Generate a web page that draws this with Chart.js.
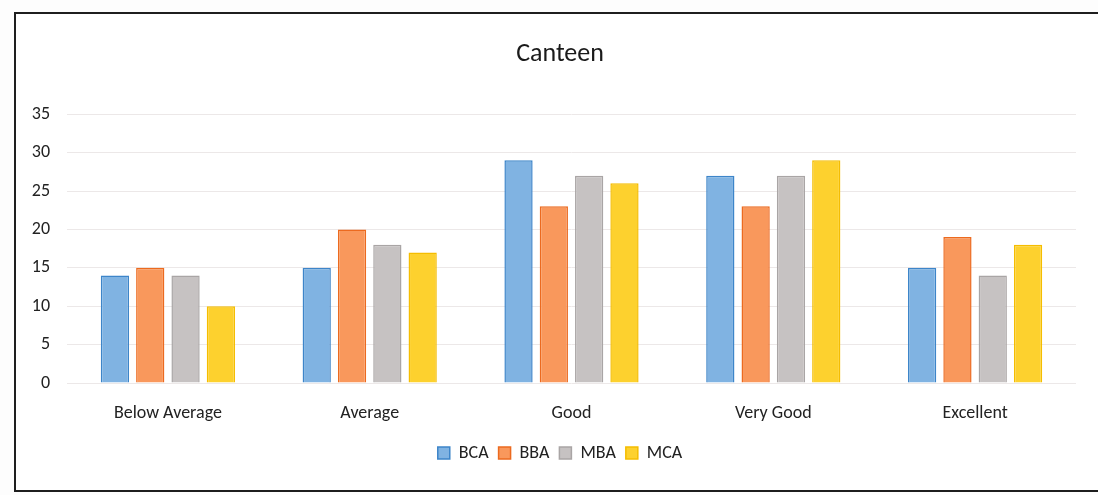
<!DOCTYPE html>
<html lang="en">
<head>
  <meta charset="UTF-8">
  <title>Canteen</title>
  <script src="https://cdn.jsdelivr.net/npm/chart.js"></script>
  <style>
    body { margin: 0; background: #fdfdfd; width: 1098px; height: 495px; overflow: hidden; position: relative; }
    #frame { position: absolute; left: 14px; top: 12px; width: 1100px; height: 476px; border: 2px solid #1e1e1e; background: #fff; }
    canvas { display: block; }
  </style>
</head>
<body>
  <div id="frame"><canvas id="chart" width="1082" height="476"></canvas></div>

  <script>
    const categories = ['Below Average', 'Average', 'Good', 'Very Good', 'Excellent'];
    const seriesNames = ['BCA', 'BBA', 'MBA', 'MCA'];
    const bca = [14, 15, 29, 27, 15];
    const bba = [15, 20, 23, 23, 19];
    const mba = [14, 18, 27, 27, 14];
    const mca = [10, 17, 26, 29, 18];
    const yTicks = [0, 5, 10, 15, 20, 25, 30, 35];

    const fills = ['#80b3e2', '#f9985c', '#c6c2c2', '#fdd12e'];
    const edges = ['#3d85c9', '#ec6a1f', '#a9a5a5', '#f5bd00'];
    const font = 'Calibri, Carlito, "Open Sans", sans-serif';

    // title and legend sit a bit right of the canvas centre in the original
    const nudge = {
      id: 'nudge',
      afterLayout: function (chart) {
        const dx = 14;
        chart.titleBlock.left += dx;
        chart.titleBlock.right += dx;
        chart.legend.left += dx;
        chart.legend.right += dx;
        chart.legend.legendHitBoxes.forEach(function (h) { h.left += dx; });
      },
    };

    function createBarChart() {
      const ctx = document.getElementById('chart').getContext('2d');
      const values = [bca, bba, mba, mca];

      new Chart(ctx, {
        type: 'bar',
        data: {
          labels: categories,
          datasets: seriesNames.map(function (name, i) {
            return {
              label: name,
              data: values[i],
              backgroundColor: fills[i],
              borderColor: edges[i],
              borderWidth: 1.5,
              categoryPercentage: 0.7,
              barPercentage: 0.8,
            };
          }),
        },
        plugins: [nudge],
        options: {
          responsive: false,
          animation: false,
          layout: { padding: { top: 25, bottom: 18, left: 0, right: 22 } },
          plugins: {
            title: {
              display: true,
              text: 'Canteen',
              color: '#1a1a1a',
              font: { family: font, size: 26, weight: 'normal' },
              padding: { top: 0, bottom: 44 },
            },
            legend: {
              position: 'bottom',
              labels: {
                color: '#222',
                font: { family: font, size: 18 },
                boxWidth: 12,
                boxHeight: 12,
                padding: 10,
              },
            },
            tooltip: { enabled: false },
          },
          scales: {
            x: {
              grid: { display: false },
              border: { display: false },
              ticks: { color: '#222', font: { family: font, size: 18 }, padding: 12 },
              afterFit: function (s) { s.height = 51; },
            },
            y: {
              min: 0,
              max: 35,
              afterBuildTicks: function (s) { s.ticks = yTicks.map(function (v) { return { value: v }; }); },
              grid: { color: '#ece8e8', drawTicks: false },
              border: { display: false },
              ticks: { color: '#222', font: { family: font, size: 18 }, padding: 17 },
              afterFit: function (s) { s.width = 51; },
            },
          },
        },
      });
    }

    createBarChart();
  </script>
</body>
</html>
